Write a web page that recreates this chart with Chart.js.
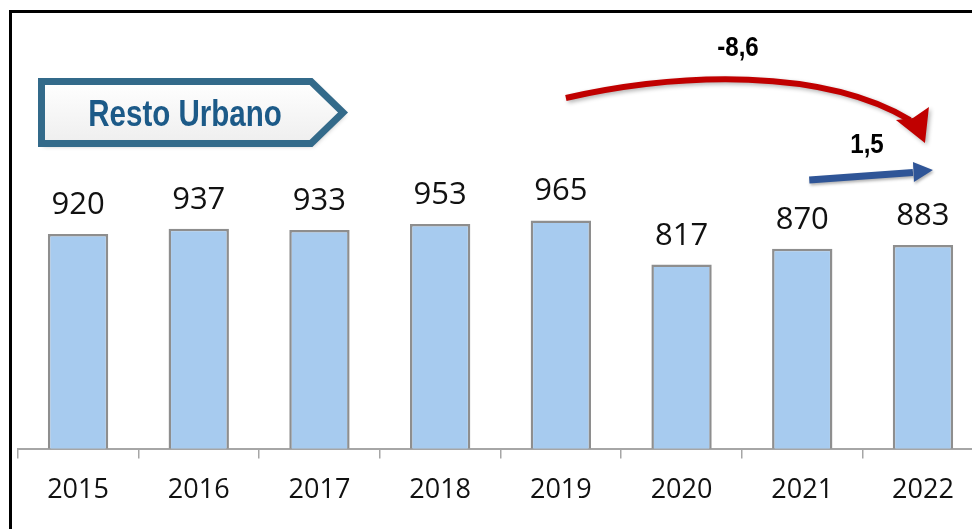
<!DOCTYPE html>
<html>
<head>
<meta charset="utf-8">
<script src="https://cdn.jsdelivr.net/npm/chart.js@4.4.0/dist/chart.umd.min.js"></script>
<style>
    html, body { margin: 0; padding: 0; background: #fff; overflow: hidden; }
    #wrap { position: absolute; left: 0; top: 0; width: 1000px; height: 529px; }
    #frame { position: absolute; left: 9px; top: 10px; width: 1100px; height: 700px; border: 3px solid #000; box-sizing: border-box; pointer-events: none; }
</style>
</head>
<body>
<div id="wrap"><canvas id="myChart"></canvas></div>
<div id="frame"></div>
<script>
const years = ['2015', '2016', '2017', '2018', '2019', '2020', '2021', '2022'];
const values = [920, 937, 933, 953, 965, 817, 870, 883];
const yMin = 200;
const yMax = 1200;
const titleText = 'Resto Urbano';
const redLabel = '-8,6';
const blueLabel = '1,5';

// texto estrecho (no hay Arial Narrow)
function narrowText(ctx, txt, cx, cy, sx) {
    ctx.save();
    ctx.translate(cx, cy);
    ctx.scale(sx, 1);
    ctx.fillText(txt, 0, 0);
    ctx.restore();
}

// texto sobre las barras + recuadro del titulo + flechas
const decoPlugin = {
    id: 'deco',
    afterDatasetsDraw(chart) {
        const ctx = chart.ctx;
        const meta = chart.getDatasetMeta(0);
        const x = chart.scales.x;

        ctx.save();
        ctx.fillStyle = '#111';
        ctx.font = '31px "Open Sans"';
        ctx.textAlign = 'center';
        ctx.textBaseline = 'alphabetic';
        meta.data.forEach((bar, i) => {
            ctx.fillText(String(values[i]), bar.x, bar.y - 20);
        });
        ctx.restore();

        // recuadro "Resto Urbano"
        ctx.save();
        ctx.shadowColor = 'rgba(0,0,0,0.35)';
        ctx.shadowBlur = 5;
        ctx.shadowOffsetX = 2;
        ctx.shadowOffsetY = 2;
        ctx.beginPath();
        ctx.moveTo(41.5, 81.5);
        ctx.lineTo(311, 81.5);
        ctx.lineTo(343, 112.5);
        ctx.lineTo(311, 143.5);
        ctx.lineTo(41.5, 143.5);
        ctx.closePath();
        const g = ctx.createLinearGradient(0, 81, 0, 144);
        g.addColorStop(0, '#ffffff');
        g.addColorStop(1, '#eeeeee');
        ctx.fillStyle = g;
        ctx.fill();
        ctx.shadowColor = 'transparent';
        ctx.lineWidth = 7;
        ctx.lineJoin = 'miter';
        ctx.strokeStyle = '#336a8a';
        ctx.stroke();
        ctx.fillStyle = '#1c5a88';
        ctx.font = 'bold 36px "Liberation Sans"';
        ctx.textAlign = 'center';
        ctx.textBaseline = 'alphabetic';
        narrowText(ctx, titleText, 185, 126, 0.82);
        ctx.restore();

        // flecha roja 2019 -> 2022
        const x19 = x.getPixelForValue(4);
        const x22 = x.getPixelForValue(7);
        ctx.save();
        ctx.shadowColor = 'rgba(0,0,0,0.3)';
        ctx.shadowBlur = 4;
        ctx.shadowOffsetX = 2;
        ctx.shadowOffsetY = 2;
        ctx.strokeStyle = '#c00000';
        ctx.fillStyle = '#c00000';
        ctx.lineWidth = 6;
        ctx.beginPath();
        ctx.moveTo(x19 + 5, 98);
        ctx.bezierCurveTo(x19 + 120, 72, x22 - 100, 68, x22 - 13, 120);
        ctx.stroke();
        ctx.beginPath();
        ctx.moveTo(x22 + 2, 143);
        ctx.lineTo(x22 - 27, 120);
        ctx.lineTo(x22 - 10, 118);
        ctx.lineTo(x22 + 6, 107);
        ctx.closePath();
        ctx.fill();
        ctx.restore();

        // flecha azul 2021 -> 2022
        const x21 = x.getPixelForValue(6);
        ctx.save();
        ctx.shadowColor = 'rgba(0,0,0,0.3)';
        ctx.shadowBlur = 3;
        ctx.shadowOffsetX = 1;
        ctx.shadowOffsetY = 2;
        ctx.strokeStyle = '#2f5597';
        ctx.fillStyle = '#2f5597';
        ctx.lineWidth = 7;
        ctx.beginPath();
        ctx.moveTo(x21 + 7, 180);
        ctx.lineTo(x22 - 10, 172.5);
        ctx.stroke();
        ctx.beginPath();
        ctx.moveTo(x22 + 10, 170);
        ctx.lineTo(x22 - 10, 162);
        ctx.lineTo(x22 - 9, 182);
        ctx.closePath();
        ctx.fill();
        ctx.restore();

        ctx.save();
        ctx.fillStyle = '#000';
        ctx.font = 'bold 28px "Liberation Sans"';
        ctx.textAlign = 'center';
        ctx.textBaseline = 'middle';
        narrowText(ctx, redLabel, 738, 48, 0.86);
        narrowText(ctx, blueLabel, 867, 145, 0.86);
        ctx.restore();
    }
};

const ctx = document.getElementById('myChart').getContext('2d');
const myChart = new Chart(ctx, {
    type: 'bar',
    data: {
        labels: years,
        datasets: [{
            data: values,
            backgroundColor: '#a7cbef',
            borderColor: '#8e8e8e',
            borderWidth: 2.5,
            borderSkipped: false,
            barPercentage: 0.5,
            categoryPercentage: 1.0
        }]
    },
    options: {
        responsive: true,
        maintainAspectRatio: false,
        animation: false,
        layout: {
            padding: { left: 17.7, right: 16.7, top: 150.4, bottom: 6 }
        },
        plugins: {
            legend: { display: false },
            tooltip: { enabled: false }
        },
        scales: {
            x: {
                grid: {
                    display: true,
                    offset: true,
                    drawOnChartArea: false,
                    drawTicks: true,
                    tickLength: 10,
                    color: '#a6a6a6',
                    lineWidth: 1.5
                },
                border: { display: true, color: '#a6a6a6', width: 2 },
                ticks: {
                    color: '#111',
                    padding: 16,
                    font: { family: '"Open Sans"', size: 27 }
                }
            },
            y: {
                display: false,
                min: yMin,
                max: yMax
            }
        }
    },
    plugins: [decoPlugin]
});
</script>
</body>
</html>
